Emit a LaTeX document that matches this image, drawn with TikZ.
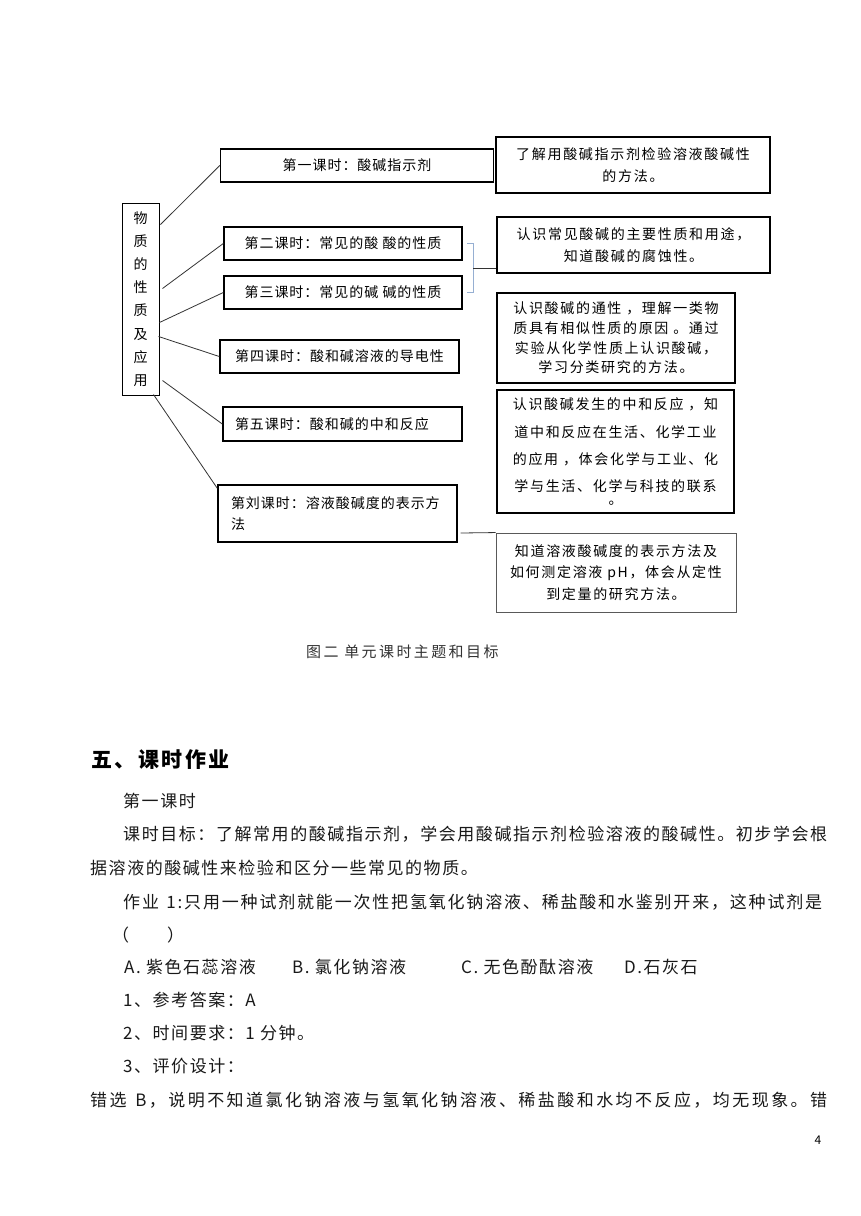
\documentclass[tikz,border=0pt]{standalone}
\usepackage{fontspec}
\setmainfont{Noto Sans CJK SC}
\newfontfamily\cjk{Noto Sans CJK SC}
\newfontfamily\cjkbox[LetterSpace=7]{Noto Sans CJK SC}
\newfontfamily\cjkgoal[LetterSpace=12]{Noto Sans CJK SC}
\newfontfamily\cjkcap[LetterSpace=16]{Noto Sans CJK SC}
\newfontfamily\cjkbody[LetterSpace=9]{Noto Sans CJK SC}
\newfontfamily\cjkhead[LetterSpace=12]{Noto Sans CJK SC}
\usetikzlibrary{calc}
\def\spreadtext#1{\spreadA#1\relax\relax}
\def\spreadA#1#2{#1\ifx\relax#2\else\hfil\expandafter\spreadA\expandafter#2\fi}
\begin{document}
\begin{tikzpicture}[x=1pt,y=-1pt,
  lesson/.style={draw=black,line width=1.4pt,inner sep=0pt,font=\cjkbox\fontsize{14}{16}\selectfont},
  goal/.style={draw=black,line width=1.4pt,inner sep=0pt,align=center},
  conn/.style={draw=black!80,line width=0.8pt},
  bracketline/.style={draw={rgb,255:red,150;green,175;blue,210},line width=0.8pt},
  body/.style={inner sep=0pt,anchor=west,font=\cjkbody\fontsize{17}{20}\selectfont,text=black!90},
  bodyspread/.style={inner sep=0pt,anchor=west,font=\cjk\fontsize{17}{20}\selectfont,text=black!90}]
\useasboundingbox (0,0) rectangle (860,1216);
\fill[white] (0,0) rectangle (860,1216);

% left vertical box
\node[draw=black,line width=1pt,minimum width=37,minimum height=192,inner sep=0pt,align=center,
  font=\cjk\fontsize{14}{23.2}\selectfont] (L) at (140.5,299) {物\\质\\的\\性\\质\\及\\应\\用};

% lesson boxes
\node[lesson,minimum width=273,minimum height=33] (b1) at (357,165.5) {第一课时：酸碱指示剂};
\node[lesson,minimum width=238,minimum height=33] (b2) at (343,243.5) {第二课时：常见的酸 酸的性质};
\node[lesson,minimum width=238,minimum height=33] (b3) at (343,292.5) {第三课时：常见的碱 碱的性质};
\node[lesson,minimum width=239,minimum height=33] (b4) at (339.5,356.5) {第四课时：酸和碱溶液的导电性};
\node[lesson,minimum width=239,minimum height=34,text width=215,inner xsep=12pt,align=left] (b5) at (342.5,424) {第五课时：酸和碱的中和反应};
\node[lesson,minimum width=239,minimum height=57,text width=213,inner xsep=13pt,align=left,
  font=\cjkbox\fontsize{14}{21.5}\selectfont] (b6) at (337.5,513.5) {第刘课时：溶液酸碱度的表示方\\法};

% goal boxes
\node[goal,minimum width=274,minimum height=56,font=\cjkgoal\fontsize{14}{22}\selectfont] (R1) at (633,165)
  {了解用酸碱指示剂检验溶液酸碱性\\的方法。};
\node[goal,minimum width=273,minimum height=56,font=\cjkgoal\fontsize{14}{22}\selectfont] (R2) at (633.5,245)
  {认识常见酸碱的主要性质和用途，\\知道酸碱的腐蚀性。};
\node[goal,minimum width=238,minimum height=90,font=\cjkgoal\fontsize{14}{19.6}\selectfont] (R3) at (616,338)
  {认识酸碱的通性 ，理解一类物\\质具有相似性质的原因 。通过\\实验从化学性质上认识酸碱，\\学习分类研究的方法。};
\node[goal,line width=1.2pt,minimum width=237,minimum height=123,font=\cjkgoal\fontsize{14}{27.3}\selectfont] (R4) at (615.5,451.5)
  {认识酸碱发生的中和反应 ，知\\道中和反应在生活、化学工业\\的应用 ，体会化学与工业、化\\学与生活、化学与科技的联系\\[-15pt]。};
\node[goal,draw=black!65,line width=0.9pt,minimum width=240,minimum height=79,font=\cjkgoal\fontsize{14}{21.5}\selectfont] (R5) at (616,572.5)
  {知道溶液酸碱度的表示方法及\\如何测定溶液 pH，体会从定性\\到定量的研究方法。};

% connectors from the left box
\path[conn] ($(L.north east)+(1,22)$) -- (b1.west);
\path[conn] ($(L.north east)+(3,86)$) -- (b2.west);
\path[conn] ($(L.north east)+(0,120)$) -- (b3.west);
\path[conn] ($(L.north east)+(-1,134)$) -- (b4.west);
\path[conn] ($(L.north east)+(3,178)$) -- (b5.west);
\path[conn] ($(L.south east)+(-6,-1)$) -- ($(b6.north west)+(0,4)$);

% bracket for lessons 2 and 3
\coordinate (brT) at (467,243);
\coordinate (brB) at (467,292);
\coordinate (brM) at (473,268);
\path[bracketline] (brT) -- ++(6,0) -- ($(brB)+(6,0)$) -- (brB);
\path[conn] (brM) -- (brM -| R2.west);

% connectors to goal boxes
\path[conn] ($(b4.east)+(0,-2)$) -- ($(b4.east)+(0,-2)$ -| R3.west);
\path[conn] ($(b5.east)+(0,8)$) -- ($(b5.east)+(0,8)$ -| R4.west);
\path[conn] ($(b6.east)+(3,19.5)$) -- (R5.north west);

% caption
\node[inner sep=0pt,anchor=west,font=\cjkcap\fontsize{15}{16}\selectfont,text=black!80] (cap) at (306,652) {图二 单元课时主题和目标};

% heading
\node[inner sep=0pt,anchor=west,font=\cjkhead\bfseries\fontsize{21}{24}\selectfont] (head) at (91,760) {五、课时作业};

% body text
\node[body] (t1) at (123,801) {第一课时};
\node[bodyspread] (t2) at (123,834) {\makebox[704pt][s]{\spreadtext{课时目标：了解常用的酸碱指示剂，学会用酸碱指示剂检验溶液的酸碱性。初步学会根}}};
\node[body] (t3) at (90,868) {据溶液的酸碱性来检验和区分一些常见的物质。};
\node[bodyspread] (t4) at (123,902) {\makebox[699pt][s]{\spreadtext{作业\ 1:只用一种试剂就能一次性把氢氧化钠溶液、稀盐酸和水鉴别开来，这种试剂是}}};
\node[body] (t5) at (112,935) {（\hspace{38pt}）};
\node[body] (t6a) at (124,967) {A. 紫色石蕊溶液};
\node[body] (t6b) at (292,967) {B. 氯化钠溶液};
\node[body] (t6c) at (461,967) {C. 无色酚酞溶液};
\node[body] (t6d) at (624,967) {D.石灰石};
\node[body] (t7) at (123,1000) {1、参考答案：A};
\node[body] (t8) at (123,1033) {2、时间要求：1 分钟。};
\node[body] (t9) at (123,1066) {3、评价设计：};
\node[bodyspread] (t10) at (90,1100) {\makebox[737pt][s]{\spreadtext{错选\ B，说明不知道氯化钠溶液与氢氧化钠溶液、稀盐酸和水均不反应，均无现象。错}}};
\node[inner sep=0pt,font=\cjk\fontsize{12}{14}\selectfont] (pg) at (818,1140) {4};
\end{tikzpicture}
\end{document}
